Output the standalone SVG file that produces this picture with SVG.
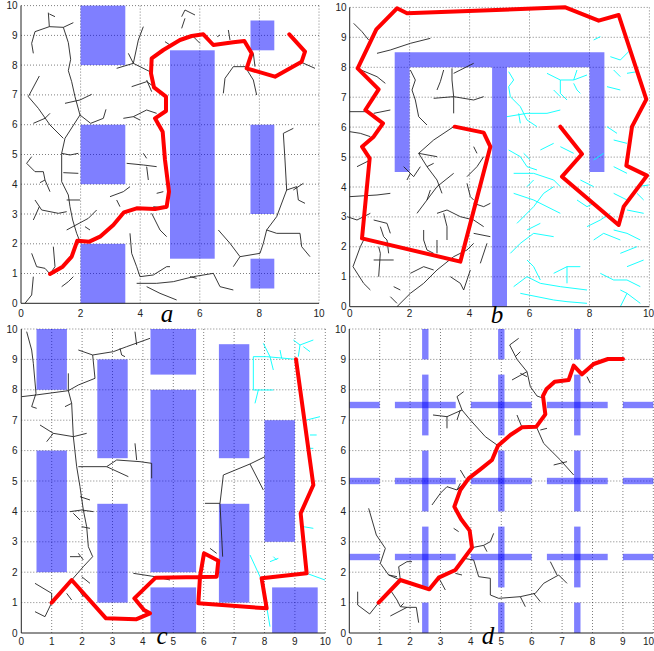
<svg xmlns="http://www.w3.org/2000/svg" width="654" height="651" viewBox="0 0 654 651">
<style>
.bg{fill:#fff}
.grid{stroke:#000;stroke-opacity:.5;stroke-width:1;stroke-dasharray:1 2;fill:none}
.axis{stroke:#222;stroke-width:1;fill:none}
.tick{font-family:"Liberation Sans",Arial,sans-serif;font-size:10px;fill:#222}
.tx{text-anchor:middle}
.ty{text-anchor:end}
.obs{fill:#0000ff;fill-opacity:.5}
.tree{fill:none;stroke:#222;stroke-width:2.7}
.cy{fill:none;stroke:#00ffff;stroke-width:2.7}
.rp{fill:none;stroke:#ff0000;stroke-width:12;stroke-linejoin:round;stroke-linecap:round}
.lbl{font-family:"Liberation Serif","Times New Roman",serif;font-style:italic;font-size:25px;fill:#000;text-anchor:middle}
</style>
<rect class="bg" x="0" y="0" width="654" height="651"/>

<!-- Panel a -->
<g id="panel-a">
<g class="grid">
<path d="M80.6,5.6V303.3M140.2,5.6V303.3M199.8,5.6V303.3M259.4,5.6V303.3M319,5.6V303.3"/>
<path d="M21,273.5H319M21,243.8H319M21,214H319M21,184.2H319M21,154.5H319M21,124.7H319M21,94.9H319M21,65.1H319M21,35.4H319M21,5.6H319"/>
</g>
<g id="a-obstacles">
<rect class="obs" x="80.6" y="5.6" width="44.7" height="59.5"/>
<rect class="obs" x="80.6" y="124.7" width="44.7" height="59.5"/>
<rect class="obs" x="80.6" y="243.8" width="44.7" height="59.5"/>
<rect class="obs" x="170" y="50.3" width="44.7" height="208.4"/>
<rect class="obs" x="250.5" y="20.5" width="23.8" height="29.8"/>
<rect class="obs" x="250.5" y="124.7" width="23.8" height="89.3"/>
<rect class="obs" x="250.5" y="258.7" width="23.8" height="29.8"/>
</g>
<g id="a-tree" transform="scale(0.33333)" class="tree">
<path d="M145,38L148,80L105,95L95,130L100,160M148,42L165,50M148,80L190,82L220,68M190,82L205,128L212,178L205,212L215,245L225,290L240,345L272,370L310,355L318,328M195,310L240,300L275,283M240,345L195,415L185,460L185,545L205,585L210,620L218,660L230,700L240,725M118,228L85,290L115,325L150,375L190,415M100,370L135,355L150,340M95,470L80,490L105,515L130,515L135,540L150,575M120,548L135,540M105,600L125,630L175,640L200,635M100,660L118,620M200,600L240,600M200,690L265,655L290,630M255,680L270,690M95,760L110,800L135,805L150,822M100,830L95,885L75,910M160,740L165,800L150,822M185,860L205,845L220,830M190,518L235,520M185,460L210,465L235,460"/>
<path d="M350,205L400,190L415,120L430,80M385,160L400,190M400,190L450,215M395,260L440,245L470,265M440,240L455,275M370,355L400,350L440,330L470,340M400,350L420,360M380,490L430,495L470,500M440,500L445,540M430,460L440,475M330,590L370,575L390,560M350,600L360,620M460,620L500,625M470,580L490,575M455,640L480,690L500,710M390,700L395,760L410,800L420,830L460,825L500,800L510,800M410,850L470,850L520,845L580,830L640,820M440,860L480,880L530,900M570,830L590,835M655,690L690,730L720,770L780,760L790,730L800,690L830,650L860,570L855,480L850,400L880,385M700,800L720,770M640,820L660,860L700,870M800,690L830,700L900,700L905,740L930,770M860,570L890,560L895,600L915,610M880,570L910,550M545,50L555,30L585,45M545,85L555,55M685,90L690,120M652,110L660,105M670,280L675,235L700,200L735,200L760,240L770,285M760,160L765,200M900,185L945,205M495,125L510,135M580,110L600,130"/>
</g>
<g class="axis"><path d="M21,5.6V303.3H319"/></g>
<g class="tick">
<text class="tx" x="21" y="317">0</text><text class="tx" x="80.6" y="317">2</text><text class="tx" x="140.2" y="317">4</text><text class="tx" x="199.8" y="317">6</text><text class="tx" x="259.4" y="317">8</text><text class="tx" x="319" y="317">10</text>
<text class="ty" x="17.5" y="306.8">0</text><text class="ty" x="17.5" y="277">1</text><text class="ty" x="17.5" y="247.3">2</text><text class="ty" x="17.5" y="217.5">3</text><text class="ty" x="17.5" y="187.7">4</text><text class="ty" x="17.5" y="158">5</text><text class="ty" x="17.5" y="128.2">6</text><text class="ty" x="17.5" y="98.4">7</text><text class="ty" x="17.5" y="68.6">8</text><text class="ty" x="17.5" y="38.9">9</text><text class="ty" x="17.5" y="9.1">10</text>
</g>
</g>

<!-- Panel b -->
<g id="panel-b">
<g class="grid">
<path d="M409.6,7.4V306.7M469.6,7.4V306.7M529.5,7.4V306.7M589.5,7.4V306.7M649.4,7.4V306.7"/>
<path d="M349.7,276.8H649.4M349.7,246.8H649.4M349.7,216.9H649.4M349.7,187H649.4M349.7,157.1H649.4M349.7,127.1H649.4M349.7,97.2H649.4M349.7,67.3H649.4M349.7,37.3H649.4M349.7,7.4H649.4"/>
</g>
<path id="b-obstacle" class="obs" d="M394.7,52.3H604.4V172H589.5V67.3H507V306.7H492.1V67.3H409.6V172H394.7Z"/>
<g id="b-tree" transform="translate(327,0) scale(0.33333)">
<path class="tree" d="M80,70L105,95L125,120M150,160L190,150L250,130L310,115M90,205L150,230L175,250M68,335L120,335M140,340L190,330M375,205L375,240L380,290L380,340M320,295L380,290L440,300L470,290M350,210L340,245L330,270M380,220L420,200L440,190M250,210L265,240L255,270L265,300L275,350L300,375M380,380L320,420L275,460L300,500L330,540L345,580M275,460L330,470M300,500L320,490M230,500L260,530L280,500M240,540L250,520M270,640L300,600L330,560L380,520M300,600L310,570M350,640L360,680L360,720M330,640L360,630L400,650L440,660L470,680M440,610L470,620L490,610M420,550L430,590L440,600M420,530L450,500L470,470M440,440L450,460M68,395L100,400L130,410M90,500L130,480M68,590L150,585L190,580M60,650L90,660L130,640M140,660L180,670L190,700M160,680L170,710L180,720L185,760M140,780L200,780M155,740L160,760L155,830M78,800L100,740L110,720M78,800L110,850L130,870M290,690L290,720L300,750L320,760M210,920L250,880L290,850L330,810L380,770L420,750L440,730M200,860L220,870M250,820L290,800L320,810M370,830L400,850L410,870L430,810M460,790L480,730M440,700L490,710M330,720L330,760M190,890L210,910"/>
<path class="cy" d="M545,215L560,240L545,260L550,290L580,320L600,360L630,380M540,350L600,340L660,340L700,330M575,340L580,370M660,220L700,240L740,240L780,225M700,240L700,280L720,300M740,250L750,270L760,280M740,240L750,210M680,270L700,290M545,450L580,470L600,500L630,510M560,520L620,520L680,540L700,560M590,460L610,480M560,580L620,600L660,620L700,640M600,560L620,540M570,670L620,620L650,580L680,560M600,690L640,670M620,700L680,710M550,760L580,730L620,700M560,860L600,830L640,850L700,860L780,870M580,880L680,900L720,905L780,910M600,780L620,800L640,840M680,820L720,800L760,800M720,800L720,850M780,680L820,660L850,640M800,720L830,700L880,720M860,690L900,700L940,720M880,760L930,740M900,800L950,780M820,820L860,840L900,840L940,860M880,870L900,880L940,910M900,880L880,920M860,580L900,600M900,630L950,640M930,560L965,555M860,500L900,520M800,480L830,460M860,420L900,430M840,380L870,400M840,260L880,270M860,210L880,230M850,170L880,180L910,150M800,120L820,110M900,220L930,215M930,580L950,600M750,600L780,620L800,610M640,450L680,430M760,540L800,560M700,440L740,460"/>
</g>
<g class="axis"><path d="M349.7,7.4V306.7H649.4"/></g>
<g class="tick">
<text class="tx" x="349.7" y="317">0</text><text class="tx" x="409.6" y="317">2</text><text class="tx" x="469.6" y="317">4</text><text class="tx" x="529.5" y="317">6</text><text class="tx" x="589.5" y="317">8</text><text class="tx" x="648.5" y="317">10</text>
<text class="ty" x="346.5" y="310.2">0</text><text class="ty" x="346.5" y="280.3">1</text><text class="ty" x="346.5" y="250.3">2</text><text class="ty" x="346.5" y="220.4">3</text><text class="ty" x="346.5" y="190.5">4</text><text class="ty" x="346.5" y="160.6">5</text><text class="ty" x="346.5" y="130.6">6</text><text class="ty" x="346.5" y="100.7">7</text><text class="ty" x="346.5" y="70.8">8</text><text class="ty" x="346.5" y="40.8">9</text><text class="ty" x="346.5" y="10.9">10</text>
</g>
</g>

<!-- Panel c -->
<g id="panel-c">
<g class="grid">
<path d="M51.7,329V633M82.1,329V633M112.5,329V633M142.9,329V633M173.3,329V633M203.7,329V633M234.1,329V633M264.5,329V633M294.9,329V633M325.3,329V633"/>
<path d="M21.3,602.6H325.3M21.3,572.2H325.3M21.3,541.8H325.3M21.3,511.4H325.3M21.3,481H325.3M21.3,450.6H325.3M21.3,420.2H325.3M21.3,389.8H325.3M21.3,359.4H325.3M21.3,329H325.3"/>
</g>
<g id="c-obstacles">
<rect class="obs" x="36.5" y="329" width="30.4" height="60.8"/>
<rect class="obs" x="36.5" y="450.6" width="30.4" height="121.6"/>
<rect class="obs" x="97.3" y="359.4" width="30.4" height="98.8"/>
<rect class="obs" x="97.3" y="503.8" width="30.4" height="98.8"/>
<rect class="obs" x="150.5" y="329" width="45.6" height="45.6"/>
<rect class="obs" x="150.5" y="389.8" width="45.6" height="182.4"/>
<rect class="obs" x="150.5" y="587.4" width="45.6" height="45.6"/>
<rect class="obs" x="218.9" y="344.2" width="30.4" height="114"/>
<rect class="obs" x="218.9" y="503.8" width="30.4" height="98.8"/>
<rect class="obs" x="264.5" y="420.2" width="30.4" height="121.6"/>
<rect class="obs" x="272.1" y="587.4" width="45.6" height="45.6"/>
</g>
<g id="c-tree" transform="translate(0,320) scale(0.33333)">
<path class="tree" d="M80,35L95,90L100,130L108,220L95,260L110,265M65,230L108,225L205,212L235,195L285,175L278,105L340,95L380,80L450,55M235,90L278,105M405,35L410,75M360,85L365,105L375,110M205,212L205,160M205,212L215,250L220,350L230,440L240,500L250,570L260,620L265,680L278,710L250,740L215,780M195,260L215,250M120,315L160,340L220,350L260,340M160,340L140,365M235,440L320,440L385,470M320,440L350,420L420,425L455,430L455,475M405,370L410,420M240,530L270,540M210,575L245,570L280,575M220,580L240,600M245,620L270,625M210,710L240,710M235,700L250,720M230,800L250,830M245,770L270,790M105,790L155,820L155,848M105,875L135,890L155,848M200,820L215,840M400,760L465,770L510,780M668,710L660,550L670,465L750,432L795,410M615,550L660,550M750,432L790,510M630,685L650,700"/>
<path class="cy" d="M760,110L800,110L888,118M760,110L760,210L820,210M790,70L810,110L820,150M775,210L765,250M840,90L845,115M880,60L900,75L940,60M900,75L895,110M930,95L910,80M920,300L960,290M930,345L950,345M920,385L940,385M910,620L940,625M920,760L975,780M750,705L780,770L790,800L810,920M820,710L830,720M810,725L835,715M905,240L910,260"/>
</g>
<g class="axis"><path d="M21.3,329V633H325.3"/></g>
<g class="tick">
<text class="tx" x="21.3" y="645">0</text><text class="tx" x="51.7" y="645">1</text><text class="tx" x="82.1" y="645">2</text><text class="tx" x="112.5" y="645">3</text><text class="tx" x="142.9" y="645">4</text><text class="tx" x="173.3" y="645">5</text><text class="tx" x="203.7" y="645">6</text><text class="tx" x="234.1" y="645">7</text><text class="tx" x="264.5" y="645">8</text><text class="tx" x="294.9" y="645">9</text><text class="tx" x="325.3" y="645">10</text>
<text class="ty" x="17.5" y="636.5">0</text><text class="ty" x="17.5" y="606.1">1</text><text class="ty" x="17.5" y="575.7">2</text><text class="ty" x="17.5" y="545.3">3</text><text class="ty" x="17.5" y="514.9">4</text><text class="ty" x="17.5" y="484.5">5</text><text class="ty" x="17.5" y="454.1">6</text><text class="ty" x="17.5" y="423.7">7</text><text class="ty" x="17.5" y="393.3">8</text><text class="ty" x="17.5" y="362.9">9</text><text class="ty" x="17.5" y="332.5">10</text>
</g>
</g>

<!-- Panel d -->
<g id="panel-d">
<g class="grid">
<path d="M379.7,329V633M410.1,329V633M440.5,329V633M470.9,329V633M501.3,329V633M531.7,329V633M562.1,329V633M592.5,329V633M622.9,329V633M653.3,329V633"/>
<path d="M349.3,602.6H653.3M349.3,572.2H653.3M349.3,541.8H653.3M349.3,511.4H653.3M349.3,481H653.3M349.3,450.6H653.3M349.3,420.2H653.3M349.3,389.8H653.3M349.3,359.4H653.3M349.3,329H653.3"/>
</g>
<g id="d-obstacles">
<rect class="obs" x="349.3" y="553.8" width="30.4" height="6.4"/><rect class="obs" x="394.9" y="553.8" width="60.8" height="6.4"/><rect class="obs" x="470.9" y="553.8" width="60.8" height="6.4"/><rect class="obs" x="546.9" y="553.8" width="60.8" height="6.4"/><rect class="obs" x="622.9" y="553.8" width="30.4" height="6.4"/>
<rect class="obs" x="349.3" y="477.8" width="30.4" height="6.4"/><rect class="obs" x="394.9" y="477.8" width="60.8" height="6.4"/><rect class="obs" x="470.9" y="477.8" width="60.8" height="6.4"/><rect class="obs" x="546.9" y="477.8" width="60.8" height="6.4"/><rect class="obs" x="622.9" y="477.8" width="30.4" height="6.4"/>
<rect class="obs" x="349.3" y="401.8" width="30.4" height="6.4"/><rect class="obs" x="394.9" y="401.8" width="60.8" height="6.4"/><rect class="obs" x="470.9" y="401.8" width="60.8" height="6.4"/><rect class="obs" x="546.9" y="401.8" width="60.8" height="6.4"/><rect class="obs" x="622.9" y="401.8" width="30.4" height="6.4"/>
<rect class="obs" x="422.1" y="602.6" width="6.4" height="30.4"/><rect class="obs" x="422.1" y="526.6" width="6.4" height="60.8"/><rect class="obs" x="422.1" y="450.6" width="6.4" height="60.8"/><rect class="obs" x="422.1" y="374.6" width="6.4" height="60.8"/><rect class="obs" x="422.1" y="329" width="6.4" height="30.4"/>
<rect class="obs" x="498.1" y="602.6" width="6.4" height="30.4"/><rect class="obs" x="498.1" y="526.6" width="6.4" height="60.8"/><rect class="obs" x="498.1" y="450.6" width="6.4" height="60.8"/><rect class="obs" x="498.1" y="374.6" width="6.4" height="60.8"/><rect class="obs" x="498.1" y="329" width="6.4" height="30.4"/>
<rect class="obs" x="574.1" y="602.6" width="6.4" height="30.4"/><rect class="obs" x="574.1" y="526.6" width="6.4" height="60.8"/><rect class="obs" x="574.1" y="450.6" width="6.4" height="60.8"/><rect class="obs" x="574.1" y="374.6" width="6.4" height="60.8"/><rect class="obs" x="574.1" y="329" width="6.4" height="30.4"/>
</g>
<g id="d-tree" transform="translate(327,320) scale(0.33333)">
<path class="tree" d="M548,75L575,55M548,75L570,118L600,155L610,200L630,228L650,235M565,110L580,95M555,180L600,155M580,160L600,170M410,215L390,230L405,270L430,300L475,350L513,377M318,285L360,290L405,270M360,290L360,325M390,300L400,270M570,285L585,322M628,320L650,370L700,420L740,465M680,435L720,425M640,330L660,325M780,170L790,190M315,555L340,520L360,500L390,510L425,475M400,450L415,475M390,510L400,490M125,565L148,645L175,685L160,730L185,765L220,780M185,765L210,770M215,740L240,725L255,725M215,740L220,780M92,815L92,855L128,882L155,848M190,810L210,840L220,860L240,862L268,862L275,908M190,888L240,862M220,860L230,850M380,625L395,635M385,760L405,765M335,773L355,810M435,683L470,676L490,665L500,640M470,676L480,695M410,715L440,720L455,770L490,775L490,825L515,835L580,830L625,820L650,790L695,765L720,790M690,765L670,725M580,830L595,860M620,820L640,845"/>
</g>
<g class="axis"><path d="M349.3,329V633H653.3"/></g>
<g class="tick">
<text class="tx" x="349.3" y="645">0</text><text class="tx" x="379.7" y="645">1</text><text class="tx" x="410.1" y="645">2</text><text class="tx" x="440.5" y="645">3</text><text class="tx" x="470.9" y="645">4</text><text class="tx" x="501.3" y="645">5</text><text class="tx" x="531.7" y="645">6</text><text class="tx" x="562.1" y="645">7</text><text class="tx" x="592.5" y="645">8</text><text class="tx" x="622.9" y="645">9</text><text x="654" y="645" style="text-anchor:end">10</text>
<text class="ty" x="346" y="636.5">0</text><text class="ty" x="346" y="606.1">1</text><text class="ty" x="346" y="575.7">2</text><text class="ty" x="346" y="545.3">3</text><text class="ty" x="346" y="514.9">4</text><text class="ty" x="346" y="484.5">5</text><text class="ty" x="346" y="454.1">6</text><text class="ty" x="346" y="423.7">7</text><text class="ty" x="346" y="393.3">8</text><text class="ty" x="346" y="362.9">9</text><text class="ty" x="346" y="332.5">10</text>
</g>
</g>

<!-- Red paths (connectors) -->
<g id="paths">
<path class="rp" transform="scale(0.33333)" d="M150,822L188,800L215,770L232,722L268,725L300,710L340,675L372,637L410,625L465,627L500,620L507,575L495,480L488,395L465,355L498,333L498,290L462,262L453,220L455,175L490,150L540,120L575,108L610,103L640,135L700,127L733,123L755,160L740,205L825,230L905,185L915,155L868,103"/>
<path class="rp" transform="translate(327,0) scale(0.33333)" d="M383,380L470,398L490,440L400,785L105,715L128,475L105,440L140,410L168,370L115,330L155,268L92,205L148,88L210,25L240,40L715,22L815,62L875,45L958,298L915,380L898,497L960,527L890,620L875,675L705,530L765,462L700,380"/>
<path class="rp" transform="translate(0,320) scale(0.33333)" d="M155,848L215,780L318,895L408,898L450,880L432,870L403,835L467,773L650,770L655,722L612,700L600,770L595,850L800,865L785,775L920,760L902,580L940,495L888,118"/>
<path class="rp" transform="translate(327,320) scale(0.33333)" d="M155,848L220,780L307,808L335,773L385,750L435,683L428,632L402,597L382,560L400,510L425,475L460,448L495,420L513,377L550,345L585,322L628,320L655,283L648,228L658,208L683,185L725,180L740,137L765,163L800,132L843,117L888,117"/>
</g>

<g id="labels">
<text class="lbl" x="167" y="322">a</text>
<text class="lbl" x="497" y="323">b</text>
<text class="lbl" x="162" y="644">c</text>
<text class="lbl" x="488" y="644">d</text>
</g>
</svg>
